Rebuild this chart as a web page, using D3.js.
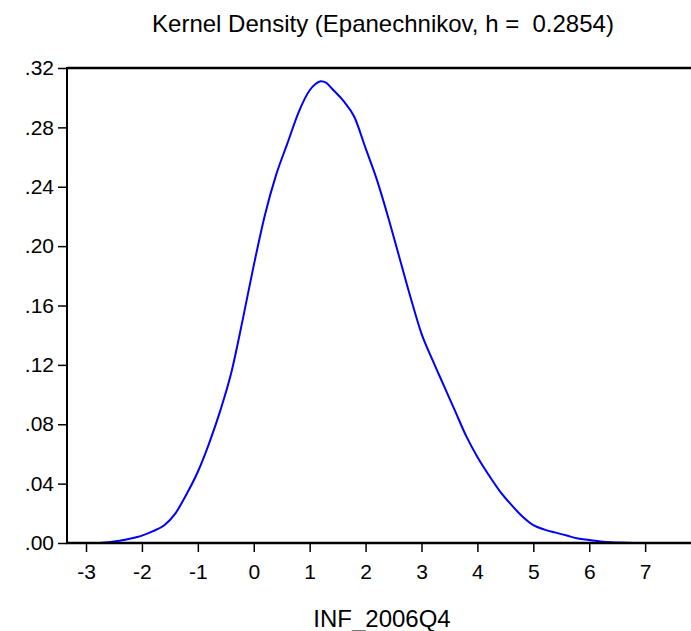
<!DOCTYPE html>
<html>
<head>
<meta charset="utf-8">
<script src="https://cdn.jsdelivr.net/npm/d3@7"></script>
<style>
  html, body { margin: 0; padding: 0; background: #fff; }
  svg { display: block; font-family: "Liberation Sans", Arial, sans-serif; }
</style>
</head>
<body>
<svg id="chart" width="691" height="631"></svg>
<script>
// ---- data ----
const xs = [-3.34, -3.0, -2.8, -2.6, -2.4, -2.2, -2.0, -1.8, -1.6, -1.4, -1.2, -1.0, -0.8, -0.6, -0.4, -0.2,
            0.0, 0.2, 0.4, 0.6, 0.8, 1.0, 1.1, 1.2, 1.3, 1.4, 1.6, 1.8, 2.0, 2.2, 2.4, 2.6, 2.8, 3.0,
            3.2, 3.4, 3.6, 3.8, 4.0, 4.2, 4.4, 4.6, 4.8, 5.0, 5.2, 5.4, 5.6, 5.8, 6.0, 6.2, 6.5, 6.8, 7.82];
const density = [0, 0, 0, 0.0005, 0.0015, 0.003, 0.005, 0.008, 0.012, 0.020, 0.033, 0.048, 0.067, 0.089, 0.115, 0.150,
                 0.187, 0.221, 0.248, 0.269, 0.290, 0.305, 0.309, 0.311, 0.310, 0.306, 0.298, 0.287, 0.266, 0.245, 0.220, 0.193, 0.166, 0.141,
                 0.123, 0.106, 0.089, 0.072, 0.058, 0.046, 0.035, 0.026, 0.018, 0.012, 0.009, 0.007, 0.005, 0.003, 0.002, 0.001, 0.0003, 0, 0];
const xTicks = [-3, -2, -1, 0, 1, 2, 3, 4, 5, 6, 7];
const yTicks = [0, 0.04, 0.08, 0.12, 0.16, 0.20, 0.24, 0.28, 0.32];
const titleText = "Kernel Density (Epanechnikov, h =  0.2854)";
const xLabelText = "INF_2006Q4";

// ---- layout ----
const svg = d3.select("#chart");
const pLeft = 67, pRight = 691, pTop = 68, pBottom = 543;

const x = d3.scaleLinear().domain([-3.34, 7.82]).range([pLeft, pRight]);
const y = d3.scaleLinear().domain([0, 0.32]).range([pBottom, pTop]);

const data = xs.map((d, i) => ({ x: d, y: density[i] }));

// density line
const line = d3.line().x(d => x(d.x)).y(d => y(d.y)).curve(d3.curveMonotoneX);
svg.append("path")
  .datum(data)
  .attr("d", line)
  .attr("fill", "none")
  .attr("stroke", "#0000ff")
  .attr("stroke-width", 2);

// axes
const fmtY = v => d3.format(".2f")(v).replace(/^0/, "");
const yAxis = d3.axisLeft(y).tickValues(yTicks).tickFormat(fmtY).tickSize(9).tickPadding(4);
const gy = svg.append("g").attr("transform", `translate(${pLeft},0)`).call(yAxis);
gy.select(".domain").remove();
gy.selectAll(".tick line").attr("stroke", "#000").attr("stroke-width", 1.5);
gy.selectAll(".tick text").attr("fill", "#000").attr("font-size", 21).attr("font-family", "Liberation Sans, Arial, sans-serif");

const xAxis = d3.axisBottom(x).tickValues(xTicks).tickFormat(d => String(d)).tickSize(9).tickPadding(12);
const gx = svg.append("g").attr("transform", `translate(0,${pBottom})`).call(xAxis);
gx.select(".domain").remove();
gx.selectAll(".tick line").attr("stroke", "#000").attr("stroke-width", 1.5);
gx.selectAll(".tick text").attr("fill", "#000").attr("font-size", 21).attr("font-family", "Liberation Sans, Arial, sans-serif");

// frame lines
svg.append("line").attr("x1", pLeft).attr("x2", pRight).attr("y1", pTop).attr("y2", pTop)
  .attr("stroke", "#000").attr("stroke-width", 2.5);
svg.append("line").attr("x1", pLeft).attr("x2", pLeft).attr("y1", pTop - 1).attr("y2", pBottom + 1)
  .attr("stroke", "#000").attr("stroke-width", 2);
svg.append("line").attr("x1", pLeft - 1).attr("x2", pRight).attr("y1", pBottom).attr("y2", pBottom)
  .attr("stroke", "#000").attr("stroke-width", 2.5);

// title and x label
svg.append("text").attr("x", 383).attr("y", 32).attr("text-anchor", "middle")
  .attr("font-size", 24).attr("fill", "#000").style("white-space", "pre")
  .text(titleText);
svg.append("text").attr("x", 382).attr("y", 627).attr("text-anchor", "middle")
  .attr("font-size", 24).attr("fill", "#000")
  .text(xLabelText);
</script>
</body>
</html>
